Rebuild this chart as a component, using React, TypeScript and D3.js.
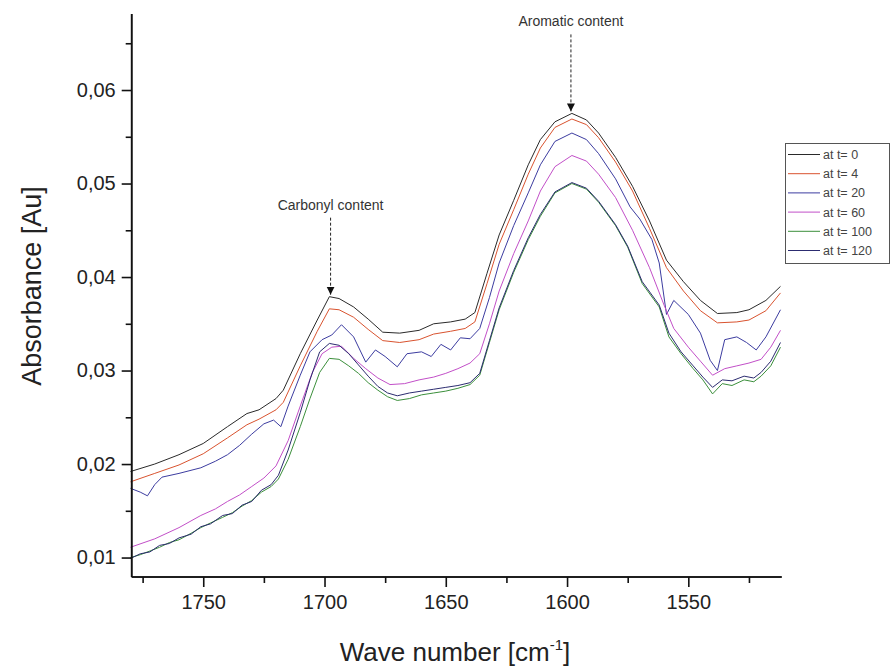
import React, { useEffect, useRef } from "react";
import * as d3 from "d3";

// ---------- data ----------
const wnA = [1780,1770,1760,1750,1740,1732,1727,1720,1717,1710,1703,1698,1694,1688,1682,1676,1669,1661,1655,1648,1642,1638,1633,1628,1622,1616,1611,1605,1598,1592,1587,1580,1573,1566,1559,1552,1545,1538,1530,1525,1518,1512];
const absT0 = [0.0192,0.0200,0.0210,0.0222,0.0240,0.0254,0.0258,0.0270,0.0279,0.0318,0.0354,0.0379,0.0377,0.0368,0.0355,0.0341,0.0340,0.0343,0.0350,0.0352,0.0355,0.0362,0.0404,0.0445,0.0482,0.0520,0.0547,0.0566,0.0575,0.0568,0.0554,0.0528,0.0497,0.0460,0.0418,0.0395,0.0375,0.0361,0.0362,0.0365,0.0375,0.0390];
const absT4 = [0.0181,0.0190,0.0199,0.0211,0.0228,0.0242,0.0248,0.0258,0.0266,0.0305,0.0342,0.0366,0.0365,0.0357,0.0344,0.0332,0.0330,0.0333,0.0339,0.0342,0.0345,0.0352,0.0393,0.0435,0.0472,0.0510,0.0538,0.0560,0.0569,0.0563,0.0549,0.0523,0.0492,0.0452,0.0410,0.0385,0.0364,0.0351,0.0352,0.0354,0.0364,0.0383];

const wnB = [1780,1776,1773,1770,1767,1760,1751,1745,1740,1735,1730,1725,1721,1718,1715,1710,1706,1701,1697,1693,1688,1683,1679,1675,1670,1666,1660,1656,1652,1648,1644,1640,1636,1632,1628,1622,1616,1611,1605,1598,1592,1587,1580,1574,1570,1565,1562,1559,1556,1550,1545,1541,1538,1535,1530,1526,1522,1518,1512];
const absT20 = [0.0174,0.0170,0.0166,0.0178,0.0186,0.0190,0.0196,0.0203,0.0210,0.0220,0.0232,0.0243,0.0247,0.0240,0.0262,0.0295,0.0320,0.0333,0.0338,0.0349,0.0336,0.0309,0.0322,0.0315,0.0304,0.0318,0.0320,0.0315,0.0328,0.0322,0.0335,0.0334,0.0345,0.0378,0.0415,0.0455,0.0490,0.0520,0.0545,0.0554,0.0547,0.0532,0.0505,0.0475,0.0462,0.0440,0.0415,0.0360,0.0375,0.0360,0.0340,0.0311,0.0300,0.0333,0.0336,0.0330,0.0322,0.0336,0.0365];

const wnC = [1780,1770,1760,1751,1745,1740,1735,1730,1725,1720,1715,1710,1705,1701,1697,1693,1688,1683,1678,1673,1667,1661,1655,1650,1645,1640,1636,1632,1628,1622,1616,1611,1605,1598,1592,1587,1580,1573,1566,1560,1556,1550,1545,1540,1535,1530,1525,1520,1516,1512];
const absT60 = [0.0111,0.0120,0.0132,0.0145,0.0152,0.0160,0.0167,0.0176,0.0185,0.0198,0.0225,0.0262,0.0298,0.0318,0.0325,0.0326,0.0313,0.0302,0.0292,0.0285,0.0286,0.0290,0.0293,0.0297,0.0302,0.0308,0.0318,0.0350,0.0385,0.0425,0.0460,0.0492,0.0518,0.0530,0.0524,0.0510,0.0485,0.0450,0.0410,0.0370,0.0345,0.0325,0.0310,0.0295,0.0302,0.0305,0.0308,0.0312,0.0325,0.0343];

const wnD = [1780,1776,1772,1768,1764,1760,1755,1751,1747,1742,1738,1734,1730,1726,1722,1719,1715,1710,1706,1702,1698,1694,1690,1686,1682,1678,1674,1670,1665,1660,1655,1650,1645,1640,1636,1632,1628,1622,1616,1611,1605,1598,1592,1587,1580,1575,1569,1562,1558,1553,1548,1544,1540,1536,1532,1527,1523,1520,1516,1512];
const absT100 = [0.0100,0.0103,0.0107,0.0111,0.0116,0.0119,0.0126,0.0132,0.0137,0.0143,0.0148,0.0155,0.0161,0.0170,0.0176,0.0184,0.0205,0.0240,0.0270,0.0298,0.0313,0.0312,0.0305,0.0297,0.0287,0.0279,0.0272,0.0268,0.0270,0.0274,0.0276,0.0278,0.0281,0.0285,0.0295,0.0330,0.0365,0.0405,0.0440,0.0465,0.0490,0.0500,0.0494,0.0480,0.0455,0.0432,0.0393,0.0368,0.0336,0.0318,0.0302,0.0290,0.0275,0.0286,0.0284,0.0290,0.0288,0.0294,0.0305,0.0325];
const absT120 = [0.0099,0.0104,0.0106,0.0113,0.0115,0.0121,0.0125,0.0133,0.0136,0.0145,0.0147,0.0156,0.0160,0.0172,0.0178,0.0188,0.0215,0.0255,0.0290,0.0320,0.0329,0.0327,0.0318,0.0306,0.0294,0.0283,0.0276,0.0273,0.0276,0.0278,0.0280,0.0282,0.0284,0.0287,0.0297,0.0332,0.0367,0.0407,0.0442,0.0467,0.0491,0.0501,0.0495,0.0481,0.0456,0.0433,0.0395,0.0370,0.0340,0.0320,0.0305,0.0293,0.0282,0.0290,0.0289,0.0294,0.0292,0.0298,0.0310,0.0330];

const seriesNames = ["at t= 0", "at t= 4", "at t= 20", "at t= 60", "at t= 100", "at t= 120"];
const seriesX = [wnA, wnA, wnB, wnC, wnD, wnD];
const seriesY = [absT0, absT4, absT20, absT60, absT100, absT120];
const seriesColors = ["#2a2a2a", "#d9532f", "#3c3ca0", "#c24fc8", "#3b8f3b", "#2c2c70"];

const yMajorTicks = [0.01, 0.02, 0.03, 0.04, 0.05, 0.06];
const yMinorTicks = [0.015, 0.025, 0.035, 0.045, 0.055, 0.065];
const xMajorTicks = [1750, 1700, 1650, 1600, 1550];
const xMinorTicks = [1775, 1725, 1675, 1625, 1575, 1525];

const annotations = [
  { label: "Carbonyl content", wn: 1697.5, value: 0.0379 },
  { label: "Aromatic content", wn: 1598.4, value: 0.0575 },
];

const FONT = "'Liberation Sans', Arial, Helvetica, sans-serif";

export default function App() {
  const ref = useRef<SVGSVGElement | null>(null);

  useEffect(() => {
    const svg = d3.select(ref.current);
    svg.selectAll("*").remove();

    const left = 131.7, right = 781.7, top = 14, bottom = 577;
    const x = d3.scaleLinear().domain([1779.5, 1511.5]).range([left, right]);
    const y = d3.scaleLinear().domain([0.00792, 0.06813]).range([bottom, top]);

    const fmt = (v: number) => d3.format(".2f")(v).replace(".", ",");

    // curves
    const line = d3.line<[number, number]>().x((d) => x(d[0])).y((d) => y(d[1]));
    const gLines = svg.append("g");
    seriesY.forEach((vals, i) => {
      const pts = vals.map((v, j) => [seriesX[i][j], v] as [number, number]);
      gLines.append("path")
        .attr("d", line(pts) as string)
        .attr("fill", "none")
        .attr("stroke", seriesColors[i])
        .attr("stroke-width", 1)
        .attr("stroke-linejoin", "round");
    });

    // y axis
    const gy = svg.append("g").attr("transform", `translate(${left},0)`);
    gy.call(d3.axisLeft(y).tickValues(yMajorTicks).tickFormat((d: any) => fmt(d)).tickSize(10).tickPadding(6).tickSizeOuter(0));
    gy.append("g").call(d3.axisLeft(y).tickValues(yMinorTicks).tickFormat(() => "").tickSize(6).tickSizeOuter(0));
    gy.selectAll("path.domain").attr("stroke", "#111").attr("stroke-width", 1.6).attr("d", `M0,${top}V${bottom}`);
    gy.selectAll(".tick line").attr("stroke", "#111").attr("stroke-width", 1.6);
    gy.selectAll(".tick text").attr("font-family", FONT).attr("font-size", 20).attr("fill", "#222");

    // x axis
    const gx = svg.append("g").attr("transform", `translate(0,${bottom})`);
    gx.call(d3.axisBottom(x).tickValues(xMajorTicks).tickFormat((d: any) => String(d)).tickSize(10).tickPadding(8).tickSizeOuter(0));
    gx.append("g").call(d3.axisBottom(x).tickValues(xMinorTicks).tickFormat(() => "").tickSize(6).tickSizeOuter(0));
    gx.selectAll("path.domain").attr("stroke", "#111").attr("stroke-width", 1.6).attr("d", `M${left},0H${right}`);
    gx.selectAll(".tick line").attr("stroke", "#111").attr("stroke-width", 1.6);
    gx.selectAll(".tick text").attr("font-family", FONT).attr("font-size", 20).attr("fill", "#222");

    // axis titles
    const xt = svg.append("text")
      .attr("x", 455).attr("y", 661)
      .attr("text-anchor", "middle")
      .attr("font-family", FONT).attr("font-size", 26).attr("fill", "#222");
    xt.append("tspan").text("Wave number [cm");
    xt.append("tspan").attr("font-size", 15).attr("dy", -11).text("-1");
    xt.append("tspan").attr("dy", 11).text("]");

    svg.append("text")
      .attr("transform", `translate(41,286) rotate(-90)`)
      .attr("text-anchor", "middle")
      .attr("font-family", FONT).attr("font-size", 27).attr("fill", "#222")
      .text("Absorbance [Au]");

    // annotations
    svg.append("defs").append("marker")
      .attr("id", "arrowhead").attr("viewBox", "0 0 10 10")
      .attr("refX", 10).attr("refY", 5)
      .attr("markerWidth", 8).attr("markerHeight", 10)
      .attr("markerUnits", "userSpaceOnUse")
      .attr("orient", "auto")
      .append("path").attr("d", "M0,0L10,5L0,10Z").attr("fill", "#111");

    annotations.forEach((a) => {
      const ax = x(a.wn);
      const tipY = y(a.value) - 2;
      const textY = tipY - 85;
      svg.append("text")
        .attr("x", ax).attr("y", textY)
        .attr("text-anchor", "middle")
        .attr("font-family", FONT).attr("font-size", 14).attr("fill", "#333")
        .text(a.label);
      svg.append("line")
        .attr("x1", ax).attr("x2", ax)
        .attr("y1", textY + 8).attr("y2", tipY)
        .attr("stroke", "#222").attr("stroke-width", 1)
        .attr("stroke-dasharray", "3,2")
        .attr("marker-end", "url(#arrowhead)");
    });

    // legend
    const lg = svg.append("g");
    lg.append("rect")
      .attr("x", 785.5).attr("y", 143.5).attr("width", 104).attr("height", 120)
      .attr("fill", "#fff").attr("stroke", "#555").attr("stroke-width", 1);
    seriesNames.forEach((name, i) => {
      const ry = 154.5 + i * 19.2;
      lg.append("line")
        .attr("x1", 788).attr("x2", 820).attr("y1", ry).attr("y2", ry)
        .attr("stroke", seriesColors[i]).attr("stroke-width", 1);
      lg.append("text")
        .attr("x", 823).attr("y", ry + 4.5)
        .attr("font-family", FONT).attr("font-size", 12.5).attr("fill", "#444")
        .text(name);
    });
  }, []);

  return (
    <svg
      ref={ref}
      width={895}
      height={668}
      style={{ position: "absolute", left: 0, top: 0, background: "#fff" }}
    />
  );
}
